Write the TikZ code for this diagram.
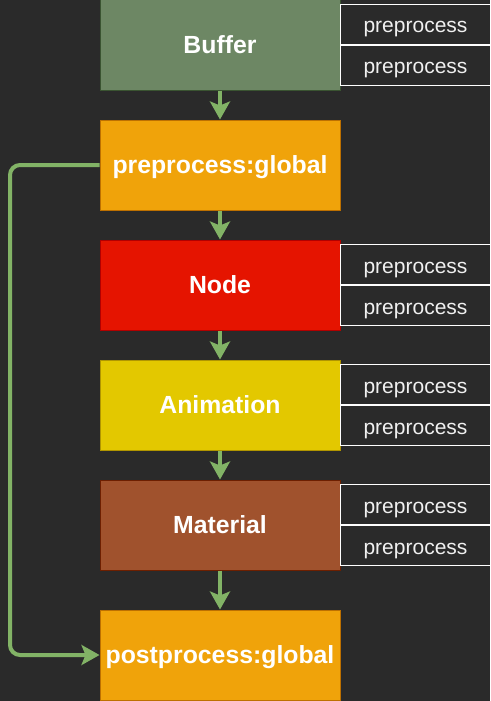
\documentclass[tikz,border=0pt]{standalone}
\usepackage{fontspec}
\setmainfont{Liberation Sans}
\usetikzlibrary{arrows.meta, positioning}
\definecolor{bgdark}{HTML}{2A2A2A}
\definecolor{linkgreen}{HTML}{82B366}
\definecolor{bufferfill}{HTML}{6D8764}
\definecolor{bufferdraw}{HTML}{3A5431}
\definecolor{globalfill}{HTML}{F0A30A}
\definecolor{globaldraw}{HTML}{BD7000}
\definecolor{nodefill}{HTML}{E51400}
\definecolor{nodedraw}{HTML}{B20000}
\definecolor{animfill}{HTML}{E3C800}
\definecolor{animdraw}{HTML}{B09500}
\definecolor{matfill}{HTML}{A0522D}
\definecolor{matdraw}{HTML}{6D1F00}
\tikzstyle{stage} = [rectangle,
minimum width=240pt,
minimum height=90pt, inner sep=0pt,
text height=22pt, text depth=4.2pt,
text=white, line width=1pt,
font=\bfseries\fontsize{24.8}{28}\selectfont]
\tikzstyle{side} = [rectangle, draw=white, fill=bgdark,
minimum width=150pt, minimum height=40pt, inner sep=0pt,
text height=19pt, text depth=2pt,
text=white!94!black, line width=1pt,
font=\fontsize{21}{24}\selectfont]
\tikzstyle{arrow} = [draw=linkgreen, line width=4pt, -{Stealth[length=18pt, width=20pt, inset=4pt]}]

\begin{document}
\begin{tikzpicture}[x=1pt, y=-1pt]
        \fill[bgdark] (0,0) rectangle (490,701);
        \useasboundingbox (0,0) rectangle (490,701);

        % main stages
        \node[stage, fill=bufferfill, draw=bufferdraw] (buffer) at (220,45) {Buffer};
        \node[stage, fill=globalfill, draw=globaldraw] (pre) at (220,165) {preprocess:global};
        \node[stage, fill=nodefill, draw=nodedraw] (node) at (220,285) {Node};
        \node[stage, fill=animfill, draw=animdraw] (anim) at (220,405) {Animation};
        \node[stage, fill=matfill, draw=matdraw] (mat) at (220,525) {Material};
        \node[stage, fill=globalfill, draw=globaldraw] (post) at (220,655) {postprocess:global};

        % side labels
        \node[side, anchor=south west] (buffer1) at (340,45) {preprocess};
        \node[side, anchor=north west] (buffer2) at (340,45) {preprocess};
        \node[side, anchor=south west] (node1) at (340,285) {preprocess};
        \node[side, anchor=north west] (node2) at (340,285) {preprocess};
        \node[side, anchor=south west] (anim1) at (340,405) {preprocess};
        \node[side, anchor=north west] (anim2) at (340,405) {preprocess};
        \node[side, anchor=south west] (mat1) at (340,525) {preprocess};
        \node[side, anchor=north west] (mat2) at (340,525) {preprocess};

        \draw[arrow] (buffer) -- (pre);
        \draw[arrow] (pre) -- (node);
        \draw[arrow] (node) -- (anim);
        \draw[arrow] (anim) -- (mat);
        \draw[arrow] (mat) -- (post);

        \coordinate (loop) at (10,0);
        \draw[arrow, rounded corners=10pt] (pre.west) -- (pre.west -| loop) -- (post.west -| loop) -- (post.west);
    \end{tikzpicture}
\end{document}
